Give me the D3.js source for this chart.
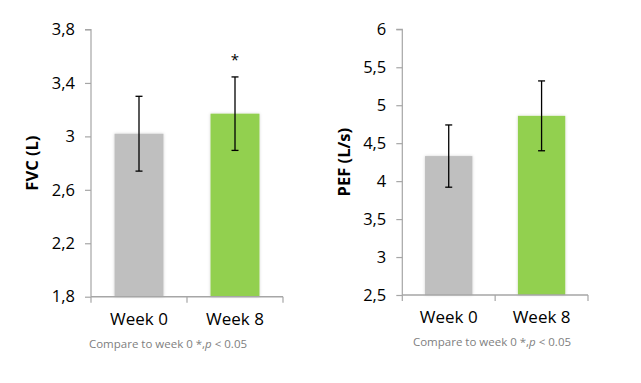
<!DOCTYPE html>
<html><head><meta charset="utf-8">
<script src="https://cdn.jsdelivr.net/npm/d3@7"></script>
<style>body{margin:0;background:#fff;}svg{display:block;font-family:"Open Sans","Noto Sans",sans-serif;}</style>
</head><body>
<script>
const categories = ["Week 0", "Week 8"];
const fvcValues = [3.02, 3.17];
const fvcErrors = [0.28, 0.275];
const fvcTicks = [1.8, 2.2, 2.6, 3.0, 3.4, 3.8];
const fvcSig = ["", "*"];
const pefValues = [4.33, 4.86];
const pefErrors = [0.41, 0.46];
const pefTicks = [2.5, 3, 3.5, 4, 4.5, 5, 5.5, 6];
const pefSig = ["", ""];
const barColors = ["#bfbfbf", "#92d050"];
const note = "Compare to week 0 *,";

const svg = d3.select("body").append("svg").attr("width", 641).attr("height", 383);
const defs = svg.append("defs");
const f = defs.append("filter").attr("id", "sh").attr("x", "-20%").attr("y", "-5%").attr("width", "140%").attr("height", "110%");
f.append("feGaussianBlur").attr("in", "SourceAlpha").attr("stdDeviation", 1.6).attr("result", "b");
f.append("feFlood").attr("flood-color", "#000").attr("flood-opacity", 0.18);
f.append("feComposite").attr("in2", "b").attr("operator", "in").attr("result", "s");
const m = f.append("feMerge"); m.append("feMergeNode").attr("in", "s"); m.append("feMergeNode").attr("in", "SourceGraphic");

function chart(cfg) {
  const g = svg.append("g");
  const y = d3.scaleLinear().domain(cfg.domain).range([cfg.bottom, cfg.top]);
  const x = d3.scaleBand().domain(categories).range([cfg.left, cfg.right]).paddingInner(0.49).paddingOuter(0.245);
  const xa = d3.scaleBand().domain(categories).range([cfg.left, cfg.right]);
  // bars
  g.selectAll("rect.bar").data(cfg.values).join("rect")
    .attr("x", (d, i) => x(categories[i])).attr("width", x.bandwidth())
    .attr("y", d => y(d)).attr("height", d => cfg.bottom - y(d))
    .attr("fill", (d, i) => barColors[i]).attr("filter", "url(#sh)");
  // y axis
  const yAxis = d3.axisLeft(y).tickValues(cfg.ticks).tickSize(6).tickPadding(10)
    .tickFormat(d => d3.format(cfg.fmt)(d).replace(".", ","));
  const yg = g.append("g").attr("transform", `translate(${cfg.left},0)`).call(yAxis);
  yg.select(".domain").attr("stroke", "#a6a6a6").attr("stroke-width", 1.2).attr("d", `M-6,${cfg.top}H0V${cfg.bottom}`);
  yg.selectAll(".tick line").attr("stroke", "#a6a6a6").attr("stroke-width", 1.2);
  yg.selectAll(".tick text").attr("fill", "#000").attr("font-size", 16.5).attr("font-family", "'Open Sans',sans-serif");
  // x axis
  const xg = g.append("g").attr("transform", `translate(0,${cfg.bottom})`);
  xg.append("line").attr("x1", cfg.left).attr("x2", cfg.right).attr("stroke", "#a6a6a6").attr("stroke-width", 1.6);
  const xt = [cfg.left, cfg.left + xa.bandwidth(), cfg.right];
  xg.selectAll("line.t").data(xt).join("line").attr("class", "t")
    .attr("x1", d => d).attr("x2", d => d).attr("y1", 0).attr("y2", 6)
    .attr("stroke", "#a6a6a6").attr("stroke-width", 1.2);
  xg.selectAll("text.c").data(categories).join("text").attr("class", "c")
    .attr("x", d => xa(d) + xa.bandwidth() / 2).attr("y", 28)
    .attr("text-anchor", "middle").attr("font-size", 17).attr("fill", "#000").text(d => d);
  // error bars
  cfg.values.forEach((v, i) => {
    const cx = x(categories[i]) + x.bandwidth() / 2;
    const t = y(v + cfg.errors[i]), b = y(v - cfg.errors[i]);
    g.append("line").attr("x1", cx).attr("x2", cx).attr("y1", t).attr("y2", b).attr("stroke", "#000").attr("stroke-width", 1.3);
    [t, b].forEach(yy => g.append("line").attr("x1", cx - 3.5).attr("x2", cx + 3.5).attr("y1", yy).attr("y2", yy).attr("stroke", "#000").attr("stroke-width", 1.3));
    if (cfg.sig[i]) g.append("text").attr("x", cx).attr("y", t - 12).attr("text-anchor", "middle").attr("font-size", 15).attr("fill", "#000").text(cfg.sig[i]);
  });
  // y label
  g.append("text").attr("transform", `translate(${cfg.labelX},${(cfg.top + cfg.bottom) / 2}) rotate(-90)`)
    .attr("text-anchor", "middle").attr("font-size", 16.5).attr("font-weight", "bold").attr("fill", "#000").text(cfg.label);
  // note
  const nt = g.append("text").attr("x", cfg.noteX).attr("y", cfg.bottom + 51).attr("text-anchor", "middle")
    .attr("font-size", 11.5).attr("fill", "#808080");
  nt.append("tspan").text(note);
  nt.append("tspan").attr("font-style", "italic").text("p");
  nt.append("tspan").text(" < 0.05");
}

chart({domain: [1.8, 3.8], top: 29.5, bottom: 296.7, left: 91, right: 283, values: fvcValues, errors: fvcErrors,
  ticks: fvcTicks, fmt: ".1~f", sig: fvcSig, label: "FVC (L)", labelX: 38, noteX: 168});
chart({domain: [2.5, 6], top: 29.3, bottom: 295, left: 402.3, right: 588, values: pefValues, errors: pefErrors,
  ticks: pefTicks, fmt: ".1~f", sig: pefSig, label: "PEF (L/s)", labelX: 350, noteX: 492});
</script>
</body></html>
